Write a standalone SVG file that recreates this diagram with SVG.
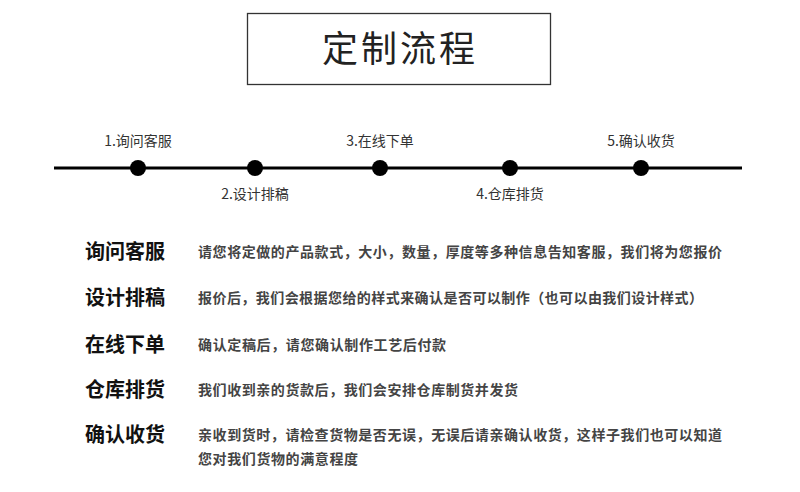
<svg xmlns="http://www.w3.org/2000/svg" width="800" height="492" viewBox="0 0 800 492">
<style>
text{font-family:"Noto Sans CJK SC","Noto Sans",sans-serif;fill:#222}
.t{font-size:14px;text-anchor:middle;fill:#333}
.h{font-size:20px;font-weight:bold;fill:#111}
.d{font-size:14px;font-weight:bold;fill:#444}
.dot{fill:#000}
</style>
<rect width="800" height="492" fill="#fff"/>
<g id="title"><rect x="247.5" y="13.5" width="303" height="71" fill="#fff" stroke="#333" stroke-width="1.3"/>
<text x="400" y="62" font-size="36" text-anchor="middle" style="letter-spacing:3px">定制流程</text></g>
<g id="connectors"><line x1="54" y1="168" x2="742" y2="168" stroke="#000" stroke-width="3"/></g>
<g id="n1"><circle class="dot" cx="138" cy="168" r="8"/><text class="t" x="138" y="146">1.询问客服</text></g>
<g id="n2"><circle class="dot" cx="255" cy="168" r="8"/><text class="t" x="255" y="199">2.设计排稿</text></g>
<g id="n3"><circle class="dot" cx="380" cy="168" r="8"/><text class="t" x="380" y="146">3.在线下单</text></g>
<g id="n4"><circle class="dot" cx="510" cy="168" r="8"/><text class="t" x="510" y="199">4.仓库排货</text></g>
<g id="n5"><circle class="dot" cx="641" cy="168" r="8"/><text class="t" x="641" y="146">5.确认收货</text></g>
<g id="s1"><text class="h" x="85" y="259">询问客服</text><text class="d" x="198" y="257" textLength="524" lengthAdjust="spacing">请您将定做的产品款式，大小，数量，厚度等多种信息告知客服，我们将为您报价</text></g>
<g id="s2"><text class="h" x="85" y="305">设计排稿</text><text class="d" x="198" y="303" textLength="505" lengthAdjust="spacing">报价后，我们会根据您给的样式来确认是否可以制作（也可以由我们设计样式）</text></g>
<g id="s3"><text class="h" x="85" y="352">在线下单</text><text class="d" x="198" y="350" textLength="248" lengthAdjust="spacing">确认定稿后，请您确认制作工艺后付款</text></g>
<g id="s4"><text class="h" x="85" y="397">仓库排货</text><text class="d" x="198" y="395" textLength="320" lengthAdjust="spacing">我们收到亲的货款后，我们会安排仓库制货并发货</text></g>
<g id="s5"><text class="h" x="85" y="442">确认收货</text><text class="d" x="198" y="440" textLength="524" lengthAdjust="spacing">亲收到货时，请检查货物是否无误，无误后请亲确认收货，这样子我们也可以知道</text>
<text class="d" x="198" y="464" textLength="160" lengthAdjust="spacing">您对我们货物的满意程度</text></g>
</svg>
